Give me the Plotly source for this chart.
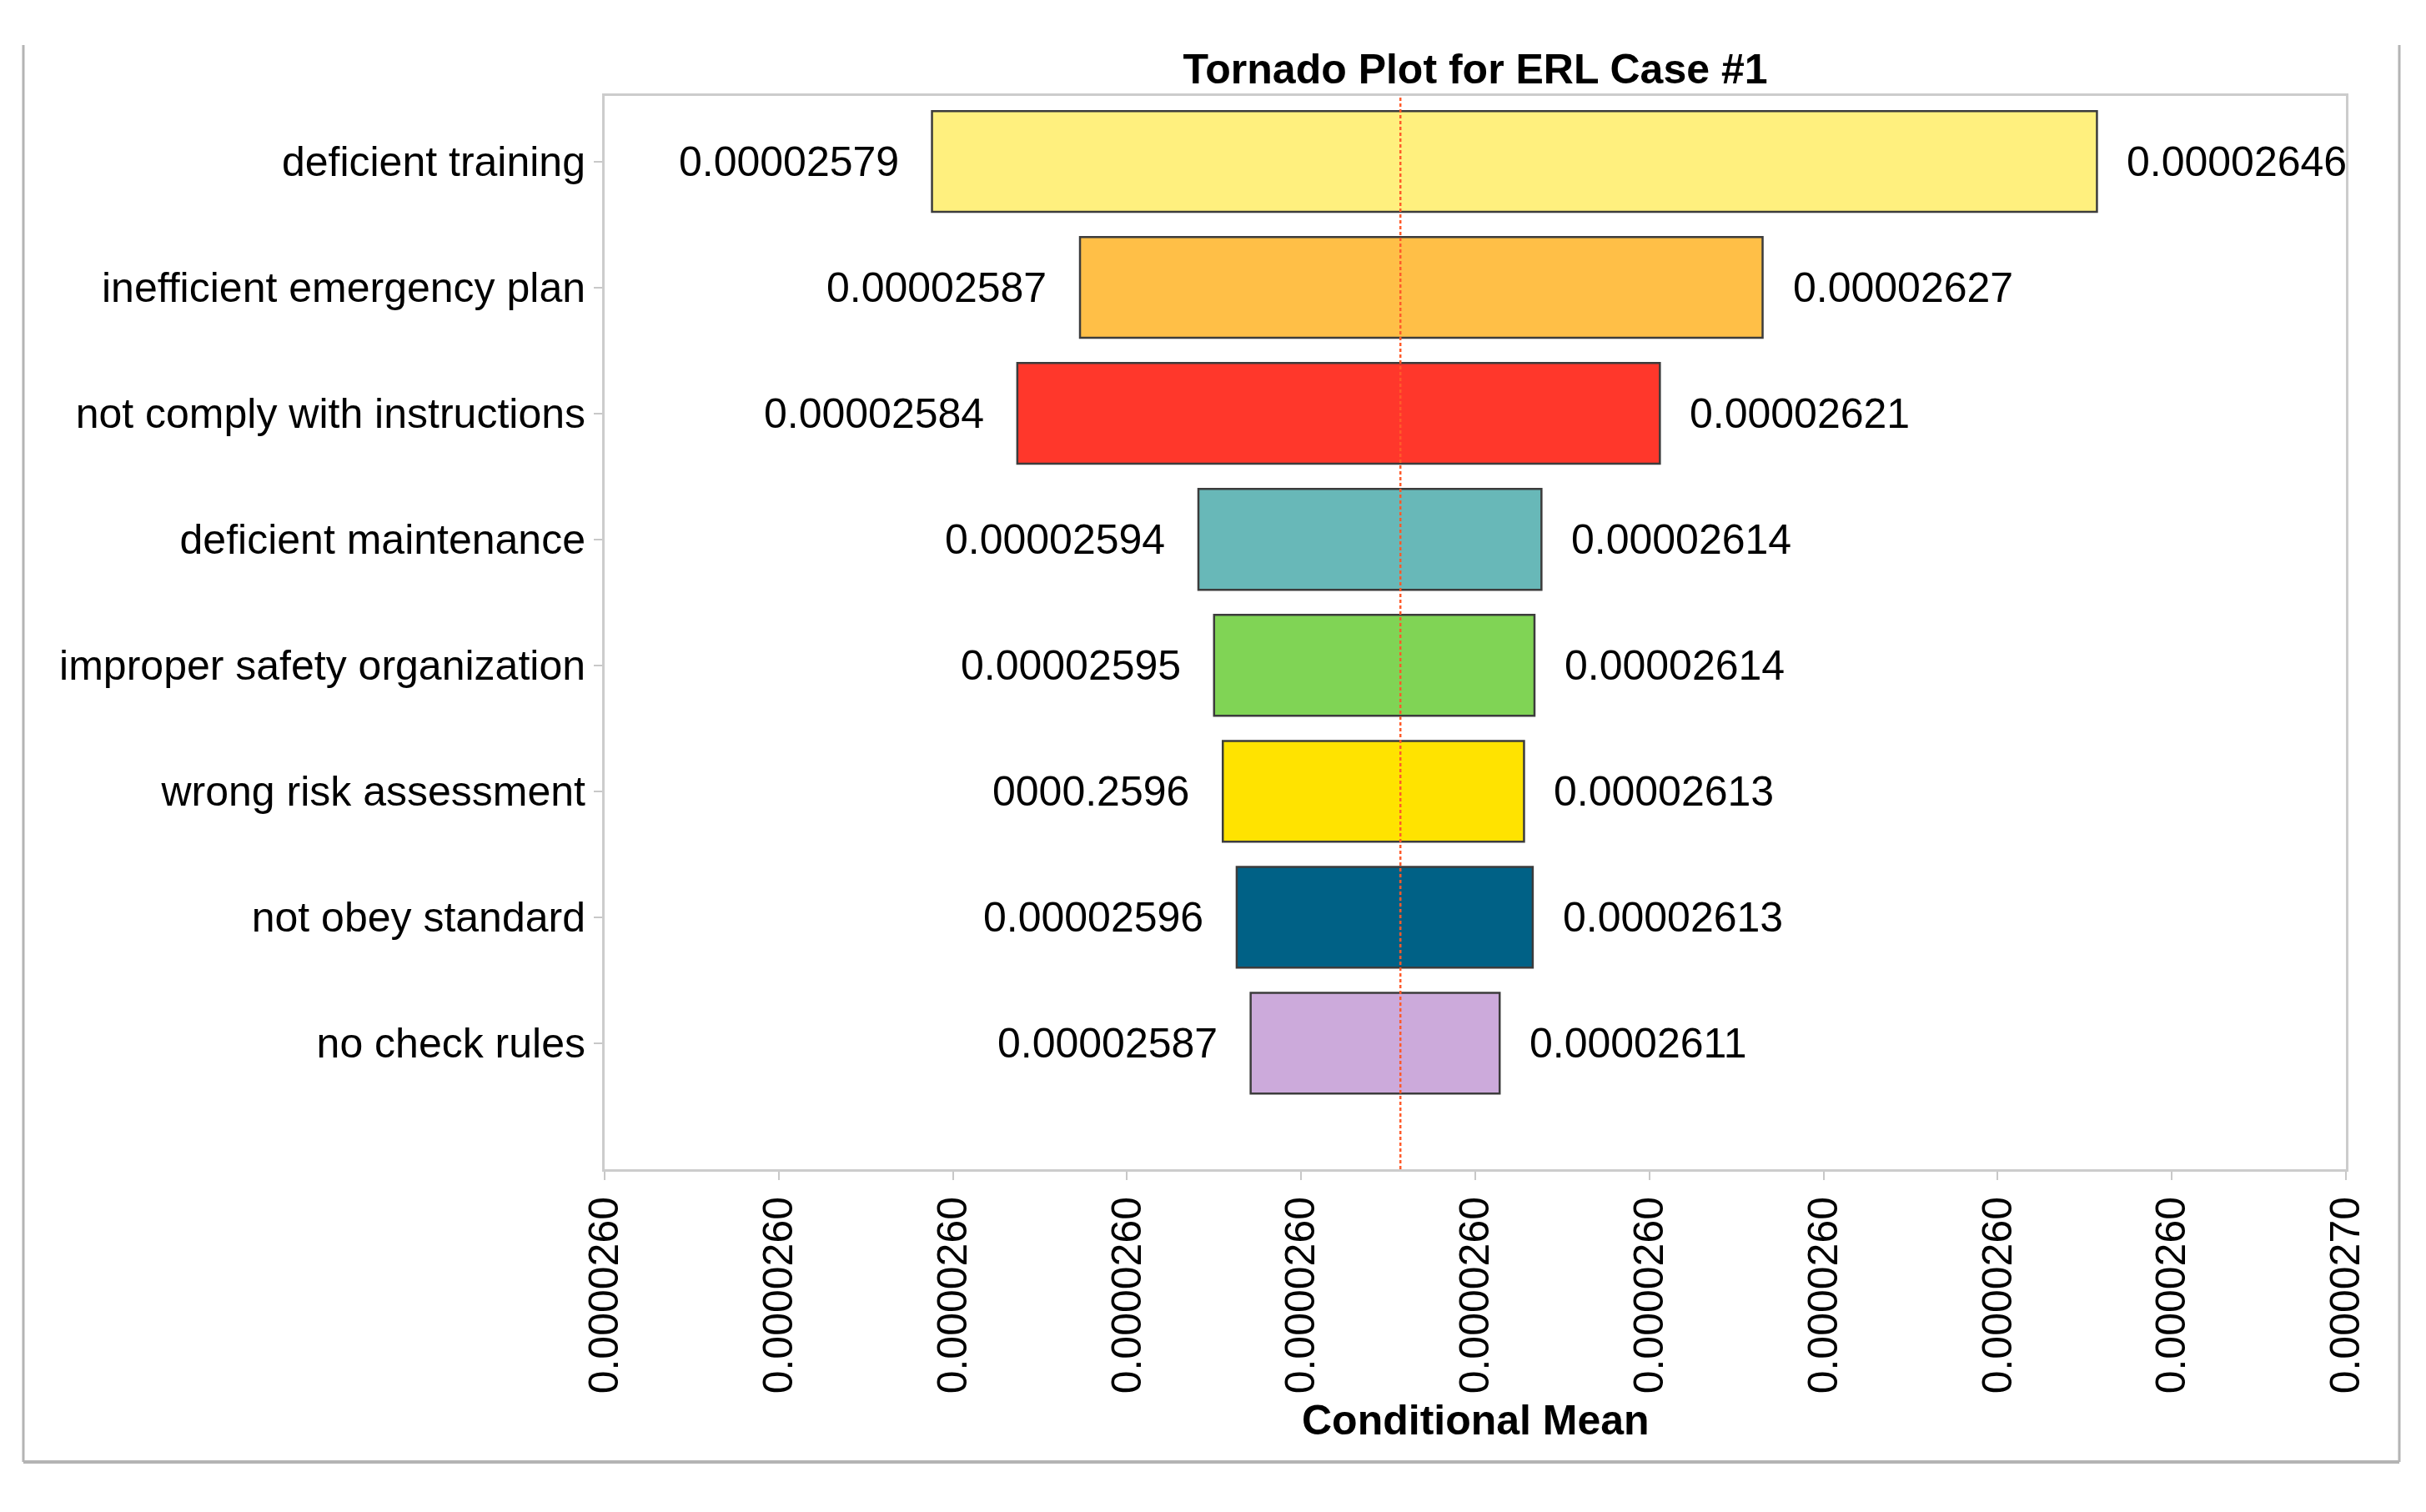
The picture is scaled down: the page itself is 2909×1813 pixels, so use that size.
import plotly.graph_objects as go

# ---------------- data ----------------
factors = [
    "deficient training",
    "inefficient emergency plan",
    "not comply with instructions",
    "deficient maintenance",
    "improper safety organization",
    "wrong risk assessment",
    "not obey standard",
    "no check rules",
]
low_values = [2.5788e-5, 2.5873e-5, 2.5837e-5, 2.5941e-5, 2.5950e-5, 2.5955e-5, 2.5963e-5, 2.5971e-5]
high_values = [2.6457e-5, 2.6265e-5, 2.6206e-5, 2.6138e-5, 2.6134e-5, 2.6128e-5, 2.6133e-5, 2.6114e-5]
low_labels = ["0.00002579", "0.00002587", "0.00002584", "0.00002594",
              "0.00002595", "0000.2596", "0.00002596", "0.00002587"]
high_labels = ["0.00002646", "0.00002627", "0.00002621", "0.00002614",
               "0.00002614", "0.00002613", "0.00002613", "0.00002611"]
base_value = 2.6057e-5
bar_colors = ["#FFF07E", "#FFBF47", "#FF372B", "#68B8B8",
              "#80D455", "#FFE300", "#006186", "#CCAADB"]
tick_values = [2.56e-5, 2.57e-5, 2.58e-5, 2.59e-5, 2.60e-5, 2.61e-5,
               2.62e-5, 2.63e-5, 2.64e-5, 2.65e-5, 2.66e-5]
tick_labels = ["0.0000260"] * 10 + ["0.0000270"]

FONT = "Liberation Sans, Arial, sans-serif"
FS = 50

# plot-area geometry (figure pixels)
PL, PR, PT, PB = 717, 2805, 107, 1394
PW, PH = PR - PL, PB - PT


def px(xpix):
    return (xpix - PL) / PW


def py(ypix):
    return (PB - ypix) / PH


fig = go.Figure()
fig.add_trace(go.Bar(
    y=factors,
    x=[h - l for h, l in zip(high_values, low_values)],
    base=low_values,
    orientation="h",
    width=0.8,
    marker=dict(color=bar_colors, line=dict(color="#3c3c3c", width=2.5)),
    showlegend=False,
    hoverinfo="skip",
))

annotations = []
for f, lo, hi, lt, ht in zip(factors, low_values, high_values, low_labels, high_labels):
    annotations.append(dict(x=lo, y=f, xref="x", yref="y", text=lt, showarrow=False,
                            xanchor="right", yanchor="middle", xshift=-38,
                            font=dict(family=FONT, size=FS, color="#000000")))
    annotations.append(dict(x=hi, y=f, xref="x", yref="y", text=ht, showarrow=False,
                            xanchor="left", yanchor="middle", xshift=34,
                            font=dict(family=FONT, size=FS, color="#000000")))

annotations.append(dict(x=0.5, y=py(1695), xref="paper", yref="paper",
                        text="<b>Conditional Mean</b>", showarrow=False,
                        xanchor="center", yanchor="middle",
                        font=dict(family=FONT, size=FS, color="#000000")))

BORDER = "#b4b4b4"
shapes = [
    dict(type="line", xref="x", yref="paper", x0=base_value, x1=base_value, y0=0, y1=1,
         line=dict(color="#FF5A2A", width=2.5, dash="4px,3px"), layer="above"),
    # outer figure border (left, bottom, right)
    dict(type="line", xref="paper", yref="paper", x0=px(20), x1=px(20),
         y0=py(46), y1=py(1745), line=dict(color=BORDER, width=3)),
    dict(type="line", xref="paper", yref="paper", x0=px(20), x1=px(2869),
         y0=py(1745), y1=py(1745), line=dict(color=BORDER, width=4)),
    dict(type="line", xref="paper", yref="paper", x0=px(2869), x1=px(2869),
         y0=py(46), y1=py(1745), line=dict(color=BORDER, width=3)),
]

fig.update_layout(
    width=2909, height=1813,
    margin=dict(l=PL, r=2909 - PR, t=PT, b=1813 - PB, pad=0),
    paper_bgcolor="white", plot_bgcolor="white",
    font=dict(family=FONT, size=FS, color="#000000"),
    title=dict(text="<b>Tornado Plot for ERL Case #1</b>", x=(PL + PR) / 2 / 2909, xanchor="center",
               y=1 - 74 / 1813, yanchor="middle", yref="container",
               font=dict(family=FONT, size=FS, color="#000000")),
    xaxis=dict(range=[2.56e-5, 2.66e-5], tickvals=tick_values, ticktext=tick_labels,
               tickangle=-90, showgrid=False, zeroline=False,
               showline=True, mirror=True, linecolor="#cccccc", linewidth=3,
               ticks="outside", ticklen=10, tickwidth=2, tickcolor="#c8c8c8",
               tickfont=dict(family=FONT, size=FS, color="#000000")),
    yaxis=dict(range=[8.0, -0.52], showgrid=False, zeroline=False,
               showline=True, mirror=True, linecolor="#cccccc", linewidth=3,
               ticks="outside", ticklen=10, tickwidth=2, tickcolor="#c8c8c8",
               tickfont=dict(family=FONT, size=FS, color="#000000")),
    annotations=annotations,
    shapes=shapes,
    bargap=0.2,
)

fig.write_html("out.html")
